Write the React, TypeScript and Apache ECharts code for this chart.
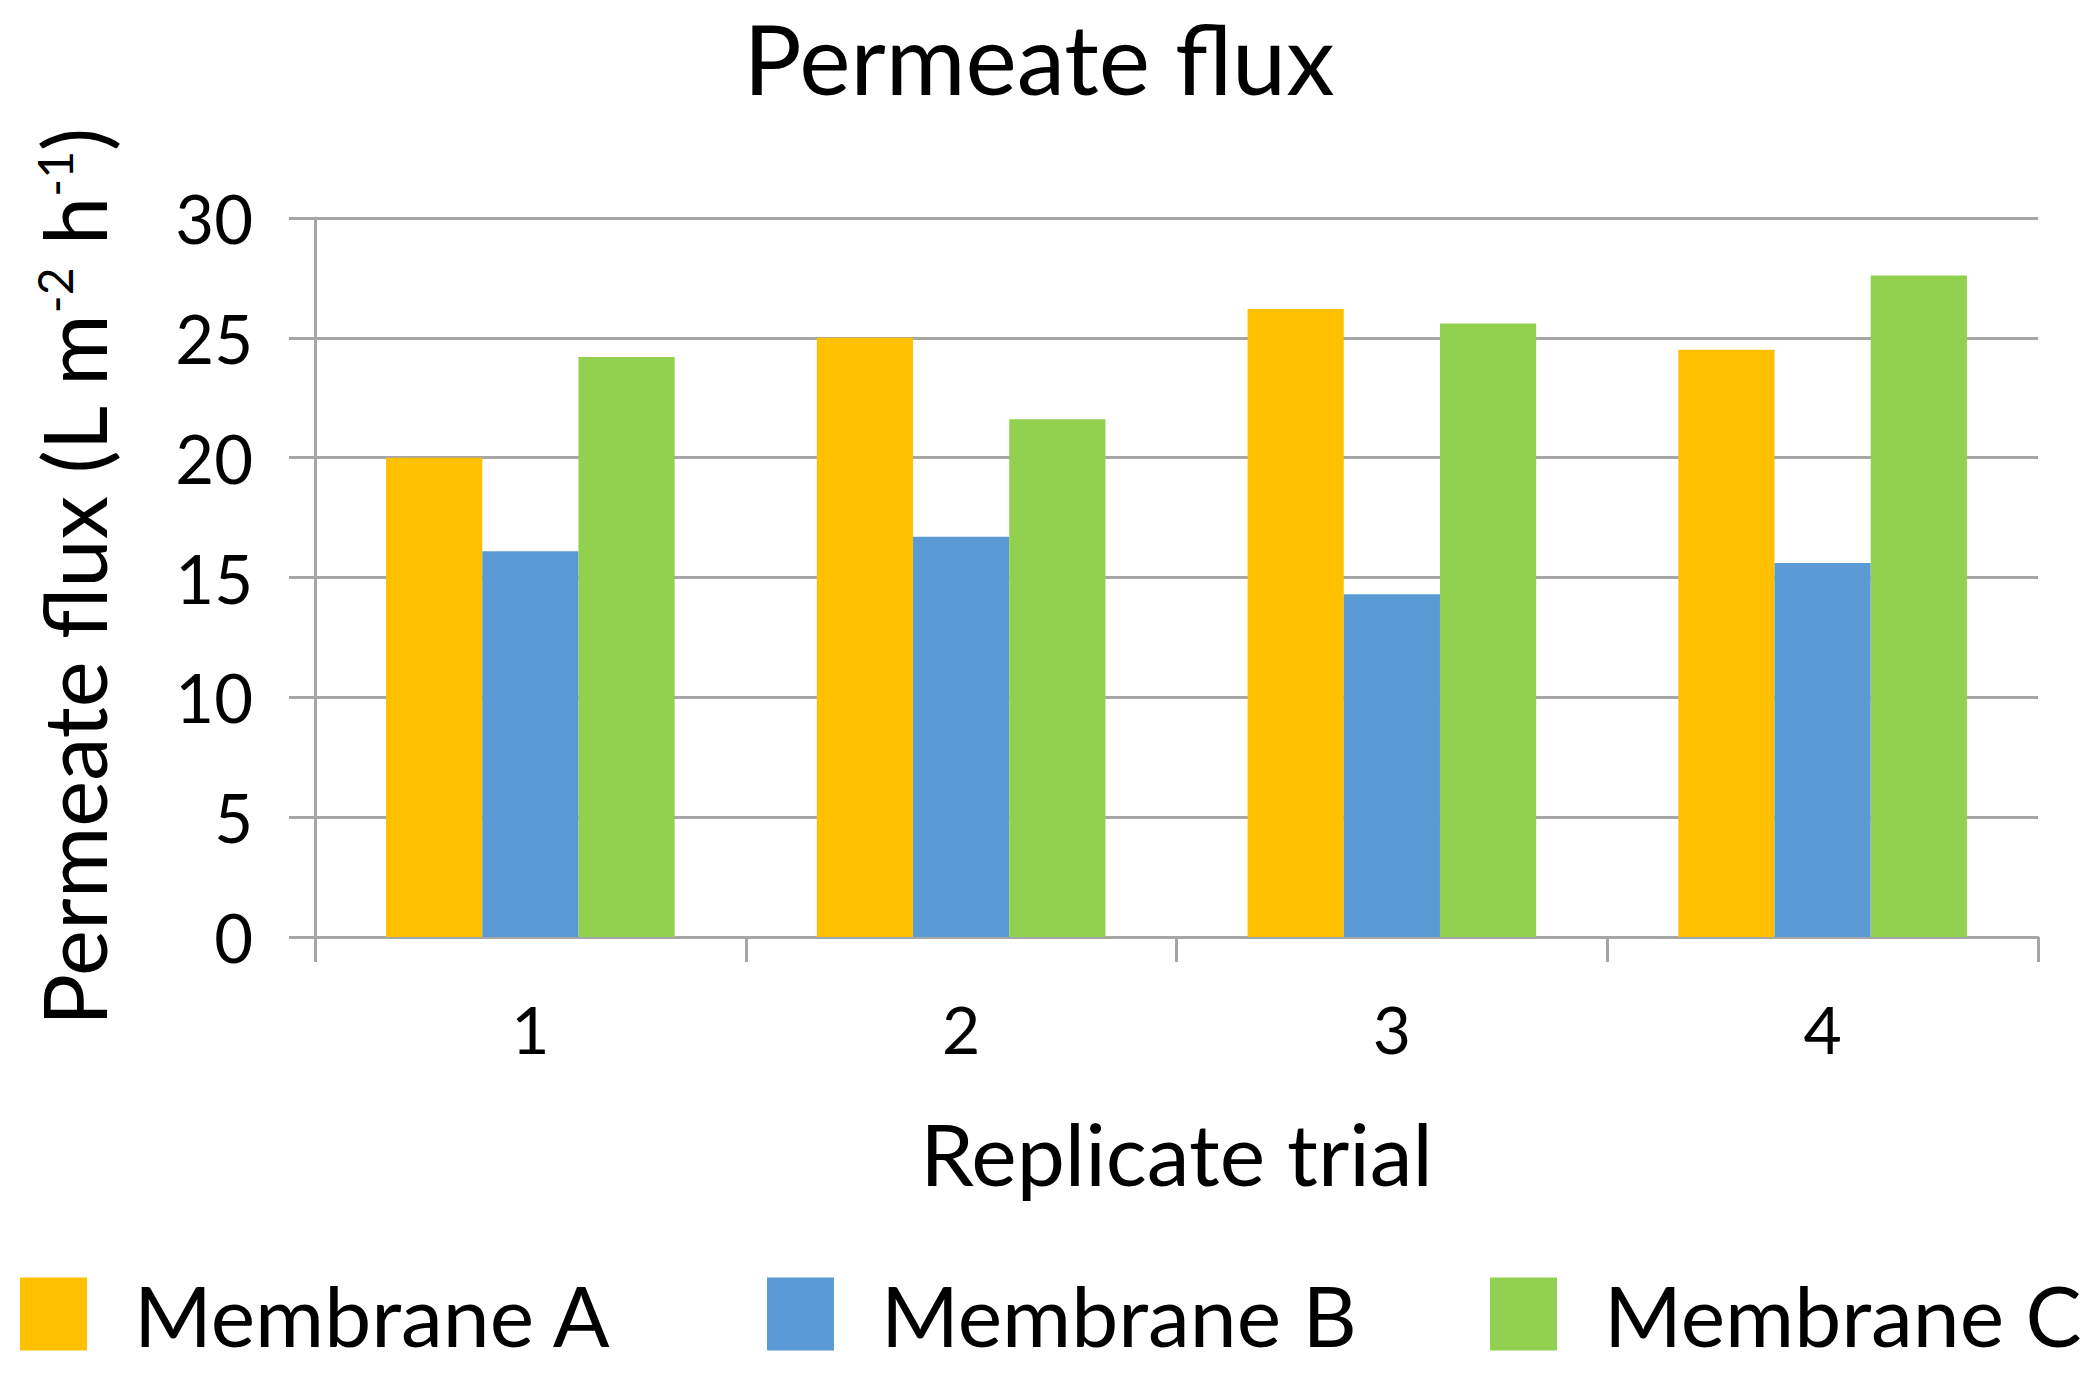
import React, { useEffect, useRef } from "react";
import * as echarts from "echarts";

const categories = ["1", "2", "3", "4"];
const membraneA = [20.0, 25.0, 26.2, 24.5];
const membraneB = [16.1, 16.7, 14.3, 15.6];
const membraneC = [24.2, 21.6, 25.6, 27.6];
const seriesNames = ["Membrane A", "Membrane B", "Membrane C"];
const colors = ["#FFC000", "#5B9BD5", "#92D050"];

const FONT = "Lato";
const GRID_COLOR = "#a6a6a6";

export default function App() {
  const ref = useRef<HTMLDivElement>(null);
  useEffect(() => {
    document.body.style.margin = "0";
    const chart = echarts.init(ref.current!, null, { renderer: "svg" });
    const legendLefts = [20, 767, 1490];
    chart.setOption({
      animation: false,
      backgroundColor: "#ffffff",
      textStyle: { fontFamily: FONT, color: "#000" },
      title: {
        text: "Permeate flux",
        left: 1034,
        textAlign: "center",
        top: 4,
        textStyle: { fontFamily: FONT, fontSize: 97, fontWeight: "normal", color: "#000" },
      },
      legend: seriesNames.map((n, i) => ({
        data: [n],
        left: legendLefts[i],
        top: 1272,
        padding: 0,
        itemWidth: 67,
        itemHeight: 73,
        icon: "rect",
        textStyle: { fontFamily: FONT, fontSize: 84, color: "#000", padding: [0, 0, 0, 42] },
      })),
      grid: { left: 315, right: 62, top: 218, bottom: 438, containLabel: false },
      xAxis: {
        type: "category",
        data: categories,
        name: "Replicate trial",
        nameLocation: "middle",
        nameGap: 172,
        nameTextStyle: { fontFamily: FONT, fontSize: 86, color: "#000" },
        axisLine: { show: true, lineStyle: { color: GRID_COLOR, width: 3 } },
        axisTick: { show: true, length: 25, lineStyle: { color: GRID_COLOR, width: 3 } },
        axisLabel: { fontFamily: FONT, fontSize: 66, color: "#000", margin: 58 },
      },
      yAxis: {
        type: "value",
        min: 0,
        max: 30,
        interval: 5,
        name: "Permeate flux (L m{sup|-2} h{sup|-1})",
        nameLocation: "middle",
        nameGap: 198,
        nameRotate: 90,
        nameTextStyle: {
          fontFamily: FONT,
          fontSize: 87,
          color: "#000",
          rich: {
            sup: { fontFamily: FONT, fontSize: 48, color: "#000", verticalAlign: "top", lineHeight: 87 },
          },
        },
        axisLine: { show: true, lineStyle: { color: GRID_COLOR, width: 3 } },
        axisTick: { show: true, length: 26, lineStyle: { color: GRID_COLOR, width: 3 } },
        axisLabel: { fontFamily: FONT, fontSize: 67, color: "#000", margin: 62 },
        splitLine: { show: true, lineStyle: { color: GRID_COLOR, width: 3 } },
      },
      series: [membraneA, membraneB, membraneC].map((d, i) => ({
        type: "bar",
        name: seriesNames[i],
        data: d,
        barGap: "0%",
        barCategoryGap: "33%",
        itemStyle: { color: colors[i] },
      })),
    });
    return () => chart.dispose();
  }, []);
  return <div ref={ref} style={{ width: 2100, height: 1375 }} />;
}
